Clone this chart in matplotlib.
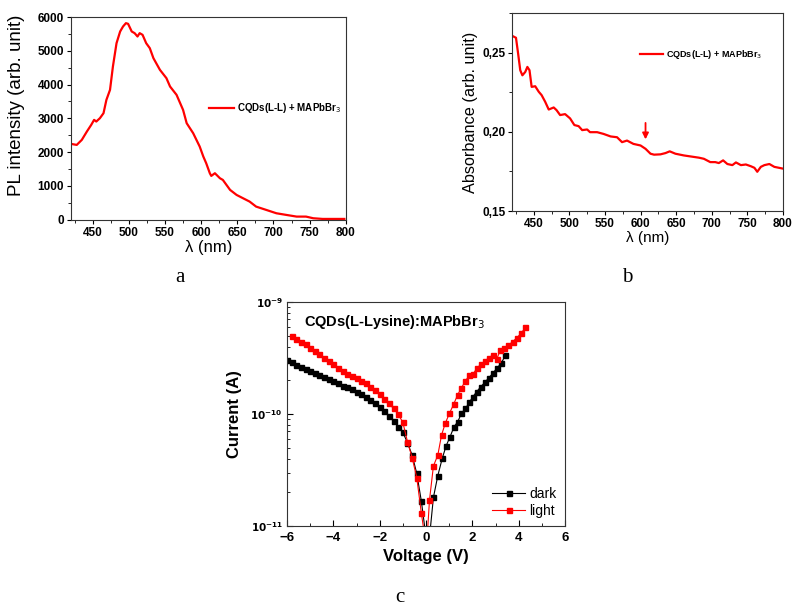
import numpy as np
import matplotlib
matplotlib.use("Agg")
import matplotlib.pyplot as plt
from matplotlib.ticker import MultipleLocator, FuncFormatter, LogLocator, NullFormatter

plt.rcParams['font.family'] = ['Liberation Sans', 'DejaVu Sans']

# =========================
# Data
# =========================
# (a) PL spectrum
pl_wl = [420, 428, 435, 442, 448, 452, 455, 460, 465, 469, 474, 478, 483, 488, 492, 496,
         499, 504, 508, 512, 515, 519, 524, 529, 534, 543, 552, 557, 566, 575, 580, 589,
         598, 603, 607, 612, 614, 619, 626, 630, 640, 649, 658, 667, 676, 690, 704, 718,
         732, 745, 755, 768, 782, 798]
pl_int = [2243, 2213, 2362, 2609, 2806, 2955, 2905, 3004, 3152, 3547, 3844, 4535, 5227, 5573,
          5721, 5820, 5800, 5573, 5524, 5425, 5524, 5474, 5227, 5079, 4783, 4437, 4190, 3943,
          3696, 3251, 2856, 2559, 2164, 1868, 1670, 1374, 1294, 1374, 1225, 1176, 880, 731,
          632, 534, 385, 287, 188, 138, 89, 89, 40, 20, 20, 20]

# (b) absorbance spectrum
abs_wl = [421, 425, 428, 431, 434, 438, 441, 444, 447, 452, 457, 461, 466, 471, 478, 482,
          487, 494, 501, 507, 513, 518, 525, 529, 539, 548, 558, 567, 574, 581, 590, 600,
          607, 614, 619, 628, 635, 641, 649, 661, 670, 682, 689, 698, 705, 710, 716, 722,
          729, 734, 741, 748, 755, 760, 764, 769, 774, 781, 788, 800]
abs_val = [0.2603, 0.2594, 0.2494, 0.2389, 0.2357, 0.2378, 0.2410, 0.2389, 0.2284, 0.2288,
           0.2253, 0.2232, 0.2190, 0.2141, 0.2154, 0.2137, 0.2106, 0.2112, 0.2085, 0.2043,
           0.2036, 0.2011, 0.2015, 0.1998, 0.1998, 0.1987, 0.1971, 0.1966, 0.1935, 0.1945,
           0.1924, 0.1914, 0.1893, 0.1862, 0.1856, 0.1858, 0.1866, 0.1877, 0.1862, 0.1851,
           0.1845, 0.1837, 0.1830, 0.1809, 0.1809, 0.1803, 0.1820, 0.1797, 0.1790, 0.1807,
           0.1790, 0.1794, 0.1783, 0.1773, 0.1748, 0.1779, 0.1790, 0.1797, 0.1779, 0.1768]
arrow_wl = 607
arrow_from, arrow_to = 0.2074, 0.1935

# (c) I-V curves, log10(current)
dark_v = [-6.0, -5.8, -5.6, -5.4, -5.2, -5.0, -4.8, -4.6, -4.4, -4.2, -4.0, -3.8, -3.6, -3.4,
          -3.2, -3.0, -2.8, -2.6, -2.4, -2.2, -2.0, -1.8, -1.6, -1.4, -1.2, -1.0, -0.8, -0.6,
          -0.4, -0.2, 0.0, 0.15,
          0.32, 0.51, 0.70, 0.87, 1.04, 1.21, 1.37, 1.53, 1.70, 1.87, 2.02, 2.19, 2.36, 2.54,
          2.71, 2.88, 3.05, 3.24, 3.43]
dark_log = [-9.518, -9.539, -9.563, -9.580, -9.598, -9.616, -9.634, -9.652, -9.667, -9.688,
            -9.705, -9.726, -9.747, -9.759, -9.780, -9.800, -9.824, -9.845, -9.875, -9.905,
            -9.935, -9.970, -10.015, -10.063, -10.113, -10.164, -10.256, -10.366, -10.530,
            -10.780, -11.1, -11.1,
            -10.744, -10.550, -10.396, -10.283, -10.202, -10.113, -10.068, -9.994, -9.950,
            -9.896, -9.845, -9.800, -9.756, -9.717, -9.676, -9.637, -9.592, -9.548, -9.473]

light_v = [-5.8, -5.6, -5.4, -5.2, -5.0, -4.8, -4.6, -4.4, -4.2, -4.0, -3.8, -3.6, -3.4, -3.2,
           -3.0, -2.8, -2.6, -2.4, -2.2, -2.0, -1.8, -1.6, -1.4, -1.2, -1.0, -0.8, -0.6, -0.4,
           -0.2, -0.05, 0.05,
           0.15, 0.32, 0.51, 0.67, 0.83, 1.01, 1.19, 1.36, 1.53, 1.70, 1.87, 2.02, 2.19, 2.36,
           2.54, 2.71, 2.88, 3.05, 3.21, 3.38, 3.56, 3.74, 3.92, 4.10, 4.29]
light_log = [-9.300, -9.330, -9.354, -9.378, -9.408, -9.438, -9.467, -9.497, -9.527, -9.557,
             -9.586, -9.616, -9.646, -9.658, -9.680, -9.705, -9.726, -9.756, -9.786, -9.824,
             -9.866, -9.905, -9.950, -10.003, -10.074, -10.247, -10.390, -10.568, -10.887,
             -11.1, -11.1,
             -10.768, -10.464, -10.366, -10.188, -10.083, -9.994, -9.914, -9.830, -9.765,
             -9.705, -9.652, -9.646, -9.592, -9.557, -9.527, -9.497, -9.473, -9.509, -9.430,
             -9.408, -9.384, -9.354, -9.318, -9.280, -9.226]

legend_ab = r"CQDs(L-L) + MAPbBr$_3$"
title_c = r"CQDs(L-Lysine):MAPbBr$_3$"

red = "#ff0000"


def style_spectrum(ax):
    ax.tick_params(direction="out", length=3, width=0.8, labelsize=8.5, pad=2)
    ax.tick_params(which="minor", direction="out", length=2, width=0.6)
    for lab in ax.get_xticklabels() + ax.get_yticklabels():
        lab.set_fontweight("bold")
    for sp in ax.spines.values():
        sp.set_linewidth(0.8)
        sp.set_color("#333333")


fig = plt.figure(figsize=(7.92, 6.10), dpi=100)

# ---- (a)
ax_a = fig.add_axes([0.0896, 0.640, 0.347, 0.332])
ax_a.plot(pl_wl, pl_int, color=red, lw=1.6, label=legend_ab)
ax_a.set_xlim(420, 800)
ax_a.set_ylim(0, 6000)
ax_a.set_xticks([450, 500, 550, 600, 650, 700, 750, 800])
ax_a.xaxis.set_minor_locator(MultipleLocator(25))
ax_a.yaxis.set_major_locator(MultipleLocator(1000))
ax_a.yaxis.set_minor_locator(MultipleLocator(500))
style_spectrum(ax_a)
ax_a.set_ylabel("PL intensity (arb. unit)", fontsize=13.5)
ax_a.yaxis.set_label_coords(-0.167, 0.565)
ax_a.set_xlabel("λ (nm)", fontsize=12, labelpad=1)
ax_a.legend(loc="center left", bbox_to_anchor=(0.47, 0.55), frameon=False,
            prop={"size": 7, "weight": "bold"}, handlelength=2.6, handletextpad=0.3)

# ---- (b)
ax_b = fig.add_axes([0.647, 0.654, 0.3415, 0.3246])
ax_b.plot(abs_wl, abs_val, color=red, lw=1.6, label=legend_ab)
ax_b.set_xlim(420, 800)
ax_b.set_ylim(0.15, 0.275)
ax_b.set_xticks([450, 500, 550, 600, 650, 700, 750, 800])
ax_b.xaxis.set_minor_locator(MultipleLocator(25))
ax_b.set_yticks([0.15, 0.20, 0.25])
ax_b.yaxis.set_minor_locator(MultipleLocator(0.025))
ax_b.yaxis.set_major_formatter(FuncFormatter(lambda v, p: f"{v:.2f}".replace(".", ",")))
style_spectrum(ax_b)
ax_b.set_ylabel("Absorbance (arb. unit)", fontsize=11.7, labelpad=3)
ax_b.set_xlabel("λ (nm)", fontsize=11, labelpad=1)
ax_b.annotate("", xy=(arrow_wl, arrow_to), xytext=(arrow_wl, arrow_from),
              arrowprops=dict(arrowstyle="-|>", color=red, lw=1.3, mutation_scale=9))
ax_b.legend(loc="center left", bbox_to_anchor=(0.44, 0.79), frameon=False,
            prop={"size": 6.5, "weight": "bold"}, handlelength=2.6, handletextpad=0.3)

# ---- (c)
ax_c = fig.add_axes([0.3624, 0.1377, 0.351, 0.367])
ax_c.plot(dark_v, 10 ** np.array(dark_log), color="black", lw=0.8, marker="s", ms=3.6,
          label="dark")
ax_c.plot(light_v, 10 ** np.array(light_log), color=red, lw=0.8, marker="s", ms=3.6,
          label="light")
ax_c.set_yscale("log")
ax_c.set_xlim(-6, 6)
ax_c.set_ylim(1e-11, 1e-9)
ax_c.set_xticks([-6, -4, -2, 0, 2, 4, 6])
ax_c.xaxis.set_minor_locator(MultipleLocator(1))
ax_c.set_yticks([1e-11, 1e-10, 1e-9])
ax_c.set_yticklabels([r"$\mathbf{10^{-11}}$", r"$\mathbf{10^{-10}}$", r"$\mathbf{10^{-9}}$"])
ax_c.yaxis.set_minor_locator(LogLocator(base=10, subs=np.arange(2, 10)))
ax_c.yaxis.set_minor_formatter(NullFormatter())
ax_c.tick_params(direction="in", length=4, width=0.8, labelsize=9.5, pad=4)
ax_c.tick_params(axis="y", labelsize=7.5, pad=3)
ax_c.tick_params(which="minor", direction="in", length=2.5, width=0.6)
for lab in ax_c.get_xticklabels():
    lab.set_fontweight("bold")
for sp in ax_c.spines.values():
    sp.set_linewidth(0.8)
    sp.set_color("#333333")
ax_c.set_xlabel("Voltage (V)", fontsize=12, fontweight="bold", labelpad=4)
ax_c.set_ylabel("Current (A)", fontsize=12, fontweight="bold", labelpad=6)
ax_c.text(0.06, 0.91, title_c, transform=ax_c.transAxes, fontsize=10.5, fontweight="bold",
          va="center", ha="left")
ax_c.legend(loc="lower right", frameon=False, fontsize=10, handlelength=2.4,
            handletextpad=0.3, borderaxespad=0.2, labelspacing=0.2)

# panel letters
fig.text(180 / 792, 1 - 278 / 610, "a", fontsize=15, family="Liberation Serif",
         ha="center", va="center")
fig.text(627 / 792, 1 - 278 / 610, "b", fontsize=15, family="Liberation Serif",
         ha="center", va="center")
fig.text(400 / 792, 1 - 598 / 610, "c", fontsize=15, family="Liberation Serif",
         ha="center", va="center")

fig.savefig("out.png", dpi=100)
